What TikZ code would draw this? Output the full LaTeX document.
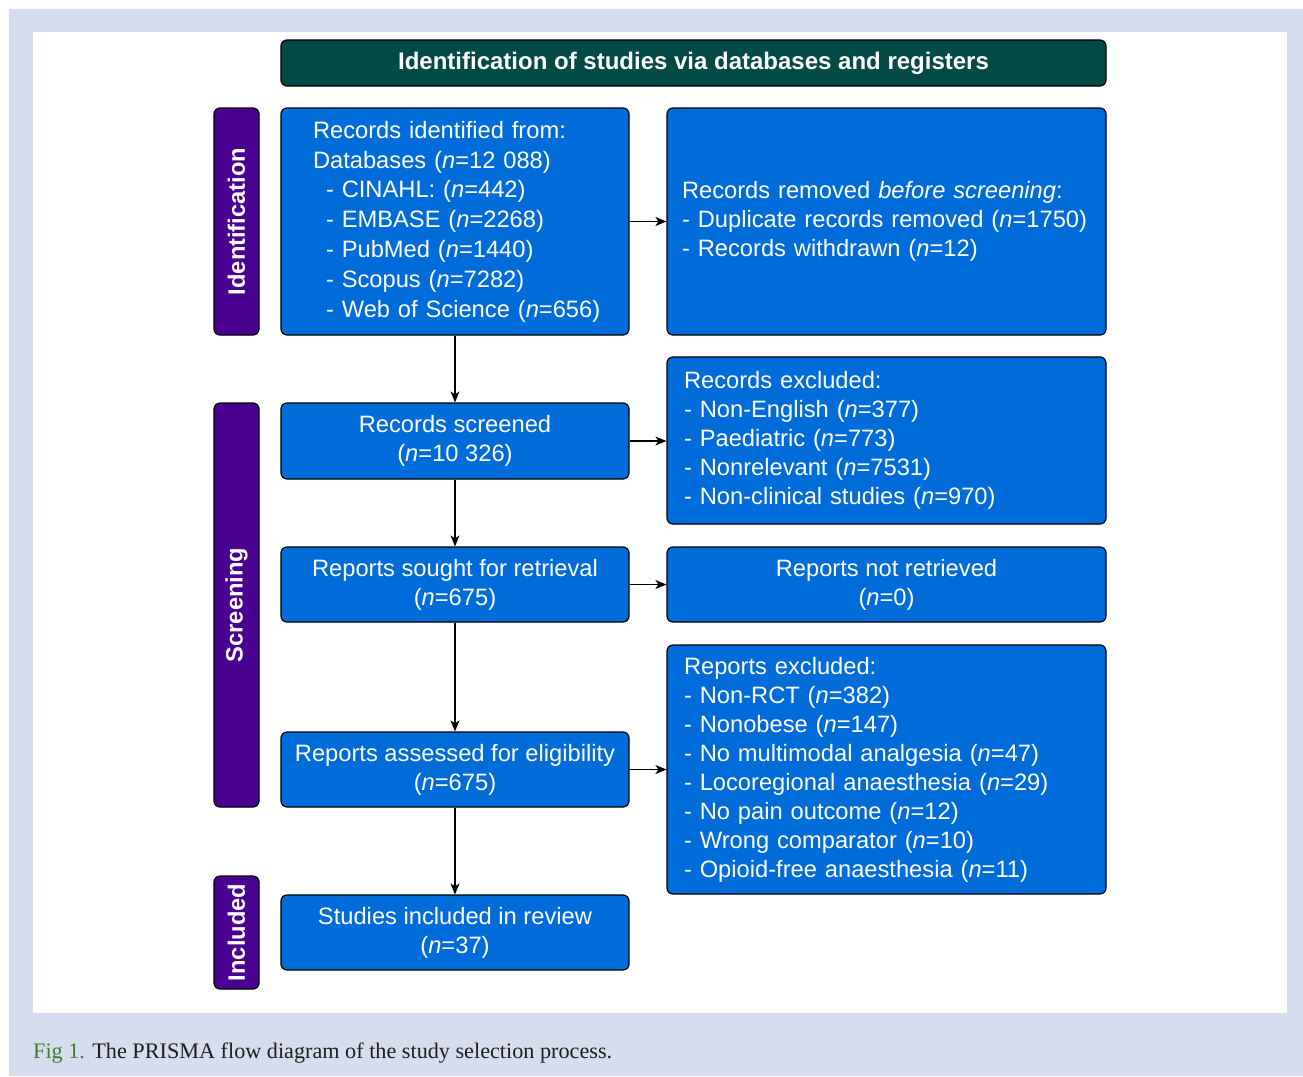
\documentclass[tikz,border=0pt]{standalone}
\usepackage{fontspec}
\setmainfont{Liberation Sans}
\newfontfamily\capfont{Liberation Serif}
\usetikzlibrary{arrows.meta}
\definecolor{panelbg}{RGB}{213,221,238}
\definecolor{boxblue}{RGB}{0,108,217}
\definecolor{phasepurple}{RGB}{74,0,145}
\definecolor{headteal}{RGB}{2,74,70}
\definecolor{capgreen}{RGB}{62,125,45}
\definecolor{captext}{RGB}{30,30,30}
\begin{document}
\begin{tikzpicture}[x=1pt,y=-1pt,
  basebox/.style={draw=black, line width=1.2pt, rounded corners=6pt, inner sep=0pt, text=white},
  bluebox/.style={basebox, fill=boxblue, font=\fontsize{23.7}{29}\selectfont},
  phasebox/.style={basebox, fill=phasepurple, font=\fontsize{23.7}{29}\selectfont\bfseries, minimum width=45pt},
  headbox/.style={basebox, fill=headteal, font=\fontsize{24}{29}\selectfont\bfseries},
  flow/.style={-{Stealth[length=11pt,width=9pt,inset=3pt]}, line width=1.2pt, draw=black}
]
\useasboundingbox (0,0) rectangle (1303,1076);
\fill[white] (0,0) rectangle (1303,1076);
\fill[panelbg] (9,9) rectangle (1303,1076);
\fill[white] (33,32) rectangle (1287,1013);

% header
\node[headbox, minimum width=825pt, minimum height=46pt] (head) at (693.5,63) {Identification of studies via databases and registers};

% phase labels
\node[phasebox, minimum height=227pt] (idph) at (236.5,221.5) {\rotatebox{90}{Identification}};
\node[phasebox, minimum height=404pt] (scph) at (236.5,605) {\rotatebox{90}{Screening}};
\node[phasebox, minimum height=113pt] (inph) at (236.5,932.5) {\rotatebox{90}{Included}};

% left column
\node[bluebox, minimum width=348pt, minimum height=227pt, text width=284pt, align=left,
      font=\fontsize{23.7}{29.8}\selectfont] (ident) at (455,221.5) {%
\mbox{Records identified from:}\\
\mbox{Databases (\textit{n}=12 088)}\\
\mbox{\hspace*{13pt}- CINAHL: (\textit{n}=442)}\\
\mbox{\hspace*{13pt}- EMBASE (\textit{n}=2268)}\\
\mbox{\hspace*{13pt}- PubMed (\textit{n}=1440)}\\
\mbox{\hspace*{13pt}- Scopus (\textit{n}=7282)}\\
\mbox{\hspace*{13pt}- Web of Science (\textit{n}=656)}};

\node[bluebox, minimum width=348pt, minimum height=76pt, align=center] (screen) at (455,441) {Records screened\\(\textit{n}=10 326)};
\node[bluebox, minimum width=348pt, minimum height=75pt, align=center] (sought) at (455,584.5) {Reports sought for retrieval\\(\textit{n}=675)};
\node[bluebox, minimum width=348pt, minimum height=75pt, align=center] (assess) at (455,769.5) {Reports assessed for eligibility\\(\textit{n}=675)};
\node[bluebox, minimum width=348pt, minimum height=75pt, align=center] (incl) at (455,932.5) {Studies included in review\\(\textit{n}=37)};

% right column
\node[bluebox, minimum width=439pt, minimum height=227pt, text width=409pt, align=left] (removed) at (886.5,221.5) {%
\mbox{Records removed \textit{before screening}:}\\
\mbox{- Duplicate records removed (\textit{n}=1750)}\\
\mbox{- Records withdrawn (\textit{n}=12)}};

\node[bluebox, minimum width=439pt, minimum height=167pt, text width=405pt, align=left] (excl) at (886.5,440.5) {%
\mbox{Records excluded:}\\
\mbox{- Non-English (\textit{n}=377)}\\
\mbox{- Paediatric (\textit{n}=773)}\\
\mbox{- Nonrelevant (\textit{n}=7531)}\\
\mbox{- Non-clinical studies (\textit{n}=970)}};

\node[bluebox, minimum width=439pt, minimum height=75pt, align=center] (notret) at (886.5,584.5) {Reports not retrieved\\(\textit{n}=0)};

\node[bluebox, minimum width=439pt, minimum height=249pt, text width=405pt, align=left] (rexcl) at (886.5,769.5) {%
\mbox{Reports excluded:}\\
\mbox{- Non-RCT (\textit{n}=382)}\\
\mbox{- Nonobese (\textit{n}=147)}\\
\mbox{- No multimodal analgesia (\textit{n}=47)}\\
\mbox{- Locoregional anaesthesia (\textit{n}=29)}\\
\mbox{- No pain outcome (\textit{n}=12)}\\
\mbox{- Wrong comparator (\textit{n}=10)}\\
\mbox{- Opioid-free anaesthesia (\textit{n}=11)}};

% connectors
\draw[flow] (ident.south) -- (screen.north);
\draw[flow] (screen.south) -- (sought.north);
\draw[flow] (sought.south) -- (assess.north);
\draw[flow] (assess.south) -- (incl.north);
\draw[flow] (ident.east) -- (ident.east -| removed.west);
\draw[flow] (screen.east) -- (screen.east -| excl.west);
\draw[flow] (sought.east) -- (sought.east -| notret.west);
\draw[flow] (assess.east) -- (assess.east -| rexcl.west);

% caption
\node[anchor=west, inner sep=0pt, font=\capfont\fontsize{22.2}{26}\selectfont, text=captext] (cap) at (33,1053)
  {\textcolor{capgreen}{Fig 1.} The PRISMA flow diagram of the study selection process.};
\end{tikzpicture}
\end{document}
